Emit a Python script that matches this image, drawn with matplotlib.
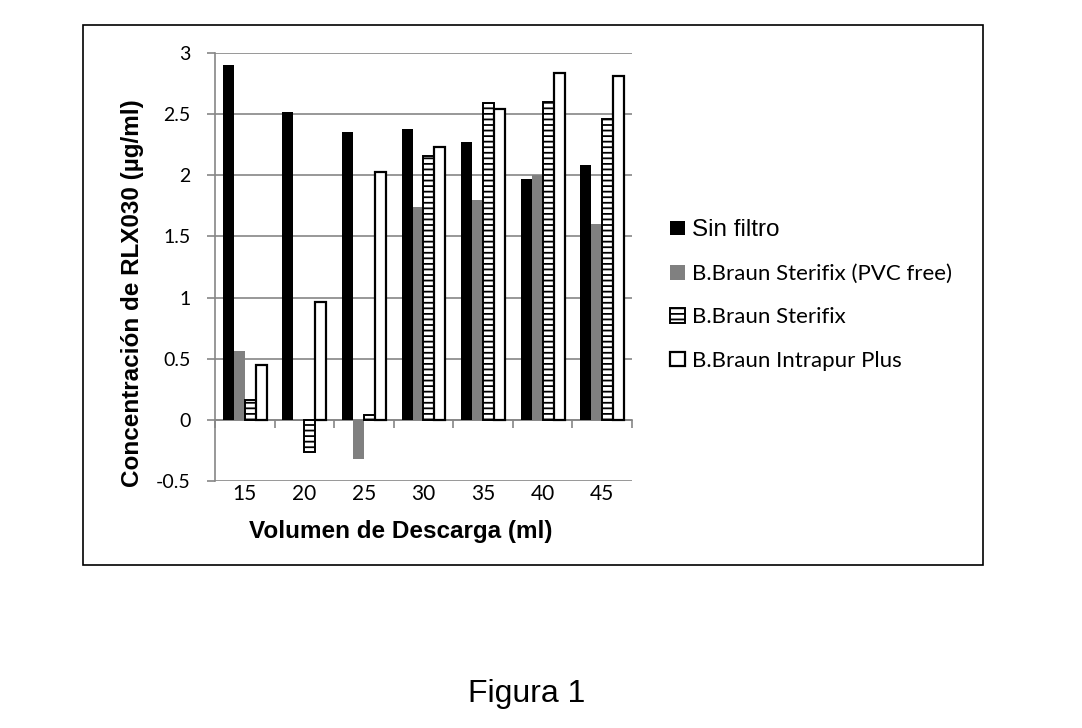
import numpy as np
import matplotlib
matplotlib.use('Agg')
import matplotlib.pyplot as plt
from matplotlib.patches import Rectangle

# 数据
volumenes = ['15', '20', '25', '30', '35', '40', '45']
sin_filtro = [2.90, 2.52, 2.35, 2.38, 2.27, 1.97, 2.08]
sterifix_pvc = [0.56, -0.01, -0.32, 1.74, 1.80, 2.00, 1.60]
sterifix = [0.16, -0.26, 0.04, 2.16, 2.59, 2.60, 2.46]
intrapur = [0.45, 0.96, 2.03, 2.23, 2.54, 2.84, 2.81]
series = ['Sin filtro', 'B.Braun Sterifix (PVC free)', 'B.Braun Sterifix',
          'B.Braun Intrapur Plus']
yticks = [-0.5, 0, 0.5, 1, 1.5, 2, 2.5, 3]
ytick_labels = ['-0.5', '0', '0.5', '1', '1.5', '2', '2.5', '3']

plt.rcParams['hatch.linewidth'] = 1.3
grid_c = '#868686'

fig = plt.figure(figsize=(10.82, 7.28), dpi=100)
fig.patch.set_facecolor('white')

# 外框
fig.patches.append(Rectangle((83 / 1082, 1 - 565 / 728), 900 / 1082, 540 / 728,
                             transform=fig.transFigure, fill=False,
                             edgecolor='black', linewidth=1.2))

ax = fig.add_axes([0.1987, 0.3393, 0.3854, 0.5879])

x = np.arange(len(volumenes))
w = 0.184
estilos = [
    dict(color='black', edgecolor='black', linewidth=0),
    dict(color='#808080', edgecolor='#808080', linewidth=0),
    dict(facecolor='white', edgecolor='black', linewidth=1.4, hatch='---'),
    dict(facecolor='white', edgecolor='black', linewidth=1.6),
]
datos = [sin_filtro, sterifix_pvc, sterifix, intrapur]
for i, (d, st, nombre) in enumerate(zip(datos, estilos, series)):
    ax.bar(x + (i - 1.5) * w, d, w, label=nombre, zorder=3, **st)

ax.set_xlim(-0.5, len(volumenes) - 0.5)
ax.set_ylim(-0.5, 3)
ax.set_yticks(yticks)
ax.set_yticklabels(ytick_labels, fontfamily='Lato', fontsize=14)
ax.set_xticks(x)
ax.set_xticklabels(volumenes, fontfamily='Lato', fontsize=15)
ax.tick_params(axis='x', length=0, pad=2)
ax.tick_params(axis='y', length=5.5, width=1.2, color=grid_c, pad=12)
ax.grid(axis='y', color=grid_c, linewidth=1.2, zorder=0)
for s in ['top', 'right', 'bottom']:
    ax.spines[s].set_visible(False)
ax.spines['left'].set_color(grid_c)
ax.spines['left'].set_linewidth(1.2)

# 零线上的刻度
sec = ax.secondary_xaxis(0.5 / 3.5)
sec.set_xticks(np.arange(len(volumenes) + 1) - 0.5)
sec.set_xticklabels([])
sec.tick_params(length=6, width=1.2, color=grid_c, direction='out')
sec.spines['bottom'].set_color(grid_c)
sec.spines['bottom'].set_linewidth(1.2)

ax.set_ylabel('Concentración de RLX030 (µg/ml)', fontfamily='Liberation Sans',
              fontweight='bold', fontsize=17.5)
ax.yaxis.set_label_coords(-0.197, 0.44)
ax.set_xlabel('Volumen de Descarga (ml)', fontfamily='Liberation Sans',
              fontweight='bold', fontsize=17.5)
ax.xaxis.set_label_coords(0.446, -0.117)
ax.xaxis.label.set_va('center')
ax.yaxis.label.set_va('center')

leg = ax.legend(loc='center left', bbox_to_anchor=(1.07, 0.435), frameon=False,
                prop={'family': 'Lato', 'size': 16}, handlelength=0.65,
                handleheight=0.65, handletextpad=0.35, labelspacing=1.05,
                borderaxespad=0)
leg.get_texts()[0].set_fontfamily('Liberation Sans')
leg.get_texts()[0].set_fontsize(17.5)

fig.text(527 / 1082, 1 - 694 / 728, 'Figura 1', ha='center', va='center',
         fontfamily='Liberation Sans', fontsize=23)

fig.savefig('out.png', dpi=100)
